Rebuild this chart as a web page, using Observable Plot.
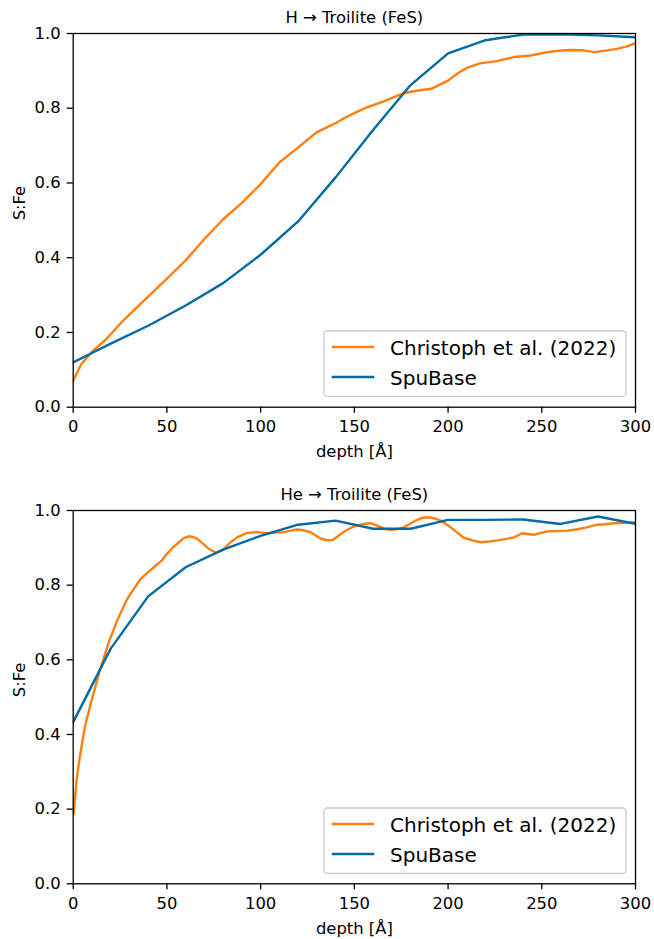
<!DOCTYPE html>
<html><head><meta charset="utf-8">
<script src="https://cdn.jsdelivr.net/npm/d3@7"></script>
<script src="https://cdn.jsdelivr.net/npm/@observablehq/plot@0.6"></script>
<style>
body{margin:0;background:#fff;}
#root{position:relative;width:654px;height:939px;font-family:"DejaVu Sans",sans-serif;}
.panel{position:relative;width:654px;}
.panel svg.legend{position:absolute;}
</style></head><body><div id="root"></div>
<script>
// ---------- data ----------
const seriesNames = ["Christoph et al. (2022)", "SpuBase"];
const panelTitles = ["H \u2192 Troilite (FeS)", "He \u2192 Troilite (FeS)"];
const xTicks = [0, 50, 100, 150, 200, 250, 300];
const yTicks = [0, 0.2, 0.4, 0.6, 0.8, 1.0];
const xLabel = "depth [\u00c5]";
const yLabel = "S:Fe";

// Panel 1: H -> Troilite
const hChristophDepth = [0,4.4,9.8,17.8,26.7,30,40,50,60,70,80,90,100,110,120,130,140,144,150,156,160,167,176,185,191,195,200,205,210,217,226,235,244,253,259,265,272,278,285,290,295,300];
const hChristophSFe   = [0.07,0.116,0.147,0.183,0.232,0.248,0.296,0.344,0.393,0.45,0.503,0.547,0.597,0.655,0.695,0.736,0.760,0.772,0.787,0.801,0.808,0.821,0.840,0.848,0.852,0.862,0.874,0.893,0.908,0.920,0.926,0.937,0.941,0.950,0.954,0.956,0.955,0.950,0.955,0.959,0.965,0.974];
const hSpuBaseDepth = [0,10,20,40,60,80,100,120,140,160,180,200,220,240,260,280,300];
const hSpuBaseSFe   = [0.12,0.145,0.17,0.218,0.272,0.332,0.408,0.497,0.615,0.742,0.862,0.947,0.982,0.997,0.998,0.995,0.990];

// Panel 2: He -> Troilite
const heChristophDepth = [0,0.3,1.8,3.5,6.2,9.8,14.2,18.7,23.1,28.4,31,36,40,43,47,50,53,56.4,59,61.7,64,66.2,69,72.4,75.9,78,80.4,84,87.5,92.8,98.2,103.5,108,112.4,116,119.5,123,126.6,132,135,138.2,141.7,145,149.7,154,158.6,162,166,169.3,173,176.4,180,182.7,186,188.9,192,196,200,203.1,208.4,213,217.3,222,226.2,231,235.1,239.5,245.7,252.9,258,263.5,268,272.4,279.6,284,288.5,294,300];
const heChristophSFe   = [0.187,0.192,0.277,0.339,0.42,0.491,0.571,0.643,0.701,0.759,0.78,0.817,0.835,0.848,0.865,0.884,0.9,0.915,0.926,0.931,0.929,0.924,0.912,0.897,0.888,0.89,0.897,0.915,0.928,0.940,0.942,0.939,0.941,0.942,0.946,0.949,0.947,0.942,0.925,0.921,0.920,0.933,0.945,0.957,0.963,0.966,0.960,0.951,0.948,0.950,0.955,0.965,0.973,0.980,0.982,0.980,0.973,0.960,0.948,0.927,0.92,0.915,0.917,0.920,0.924,0.928,0.939,0.935,0.944,0.945,0.946,0.949,0.953,0.962,0.963,0.966,0.967,0.969];
const heSpuBaseDepth = [0,20,40,60,80,100,120,140,160,180,200,220,240,260,280,300];
const heSpuBaseSFe   = [0.433,0.63,0.77,0.848,0.895,0.932,0.962,0.973,0.951,0.951,0.975,0.975,0.976,0.964,0.984,0.964];

// ---------- styling ----------
const ORANGE = "#FF800E";
const BLUE = "#006BA4";
const colors = [ORANGE, BLUE];
const FONT = 16.4;

const toRows = (xs, ys) => xs.map((x, i) => ({x, y: ys[i]}));

function makePanel({title, christoph, spubase, height, marginTop, marginBottom, legendTop}) {
  const div = document.createElement("div");
  div.className = "panel";
  div.style.height = height + "px";
  const chart = Plot.plot({
    width: 654,
    height,
    marginLeft: 72.7,
    marginRight: 19,
    marginTop,
    marginBottom,
    style: {fontFamily: "DejaVu Sans", fontSize: FONT + "px", background: "white", color: "black", overflow: "visible"},
    x: {domain: [0, 300]},
    y: {domain: [0, 1]},
    marks: [
      Plot.line(christoph, {x: "x", y: "y", stroke: ORANGE, strokeWidth: 2.4, clip: true}),
      Plot.line(spubase, {x: "x", y: "y", stroke: BLUE, strokeWidth: 2.4, clip: true}),
      Plot.frame({stroke: "black", strokeWidth: 1.3}),
      Plot.axisX({ticks: xTicks, tickSize: 6, tickPadding: 7.5, strokeWidth: 1.3, label: null}),
      Plot.axisY({ticks: yTicks, tickSize: 6, tickPadding: 6.5, tickFormat: d3.format(".1f"), strokeWidth: 1.3, label: null}),
      Plot.text([title], {text: d => d, frameAnchor: "top", dy: -15.5, lineAnchor: "middle"}),
      Plot.text([yLabel], {text: d => d, frameAnchor: "left", rotate: -90, dx: -53.7, lineAnchor: "middle"}),
      Plot.text([xLabel], {text: d => d, frameAnchor: "bottom", dy: 45, lineAnchor: "middle"})
    ]
  });
  div.appendChild(chart);

  const leg = d3.select(div).append("svg")
    .attr("class", "legend")
    .attr("width", 306).attr("height", 70)
    .style("left", "323px").style("top", (legendTop - 1) + "px");
  leg.append("rect")
    .attr("x", 1).attr("y", 1).attr("width", 302).attr("height", 65.3)
    .attr("rx", 3.5)
    .attr("fill", "rgba(255,255,255,0.8)")
    .attr("stroke", "#cccccc").attr("stroke-width", 1.3);
  seriesNames.forEach((name, i) => {
    const cy = 17 + 30 * i;
    leg.append("line")
      .attr("x1", 8.7).attr("x2", 51.3).attr("y1", cy).attr("y2", cy)
      .attr("stroke", colors[i]).attr("stroke-width", 2.4);
    leg.append("text")
      .attr("x", 67).attr("y", cy + 7.5)
      .attr("font-family", "DejaVu Sans").attr("font-size", 20)
      .attr("fill", "black")
      .text(name);
  });
  return div;
}

const root = document.getElementById("root");
root.appendChild(makePanel({
  title: panelTitles[0],
  christoph: toRows(hChristophDepth, hChristophSFe),
  spubase: toRows(hSpuBaseDepth, hSpuBaseSFe),
  height: 470, marginTop: 33, marginBottom: 63.3, legendTop: 330.7
}));
root.appendChild(makePanel({
  title: panelTitles[1],
  christoph: toRows(heChristophDepth, heChristophSFe),
  spubase: toRows(heSpuBaseDepth, heSpuBaseSFe),
  height: 469, marginTop: 40, marginBottom: 55.7, legendTop: 337.7
}));
</script>
</body></html>
